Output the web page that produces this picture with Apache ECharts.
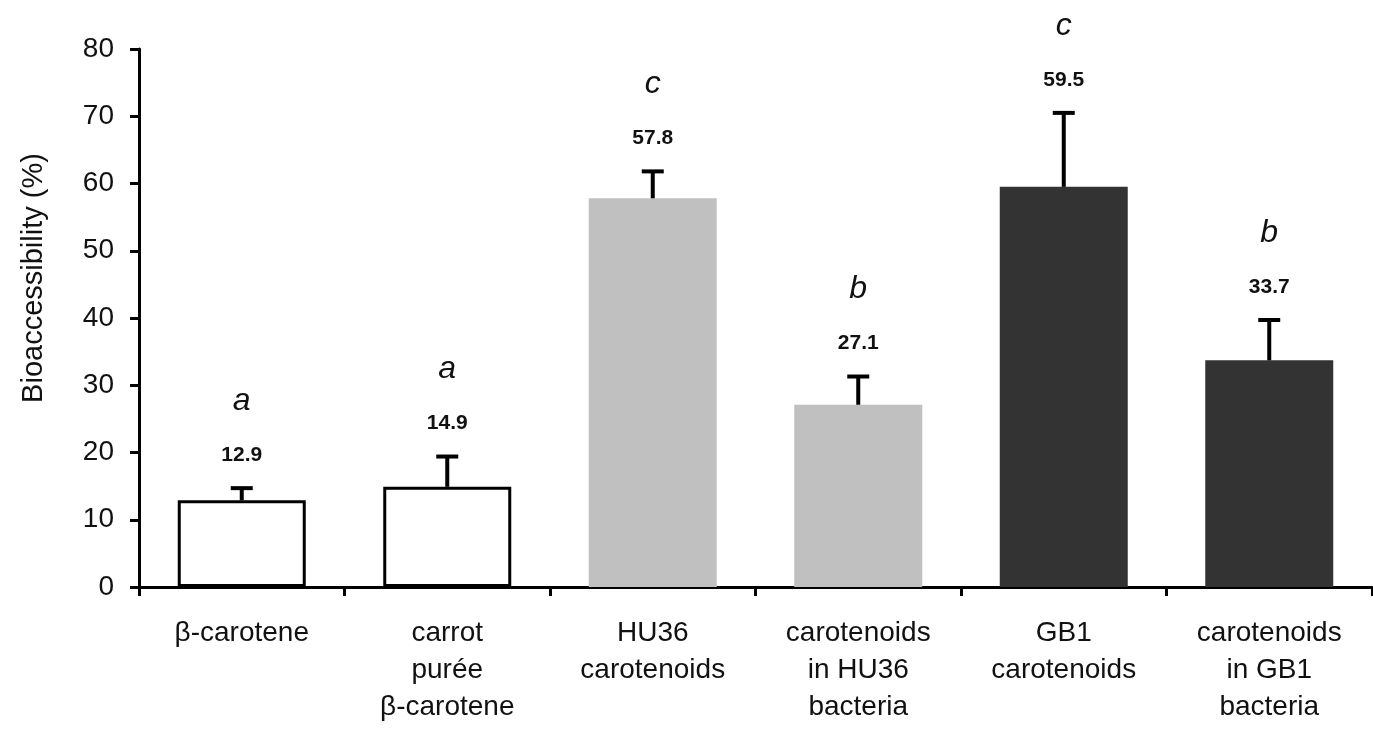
<!DOCTYPE html>
<html>
<head>
<meta charset="utf-8">
<script src="https://cdn.jsdelivr.net/npm/echarts@6/dist/echarts.min.js"></script>
<style>
html,body{margin:0;padding:0;background:#fff;}
#chart{width:1373px;height:733px;}
</style>
</head>
<body>
<div id="chart"></div>
<script>
// ---- data ----
var categories = ['β-carotene', 'carrot\npurée\nβ-carotene', 'HU36\ncarotenoids', 'carotenoids\nin HU36\nbacteria', 'GB1\ncarotenoids', 'carotenoids\nin GB1\nbacteria'];
var values = [12.9, 14.9, 57.8, 27.1, 59.5, 33.7];
var errors = [1.8, 4.5, 4.0, 4.2, 11.0, 6.0];
var valueLabels = ['12.9', '14.9', '57.8', '27.1', '59.5', '33.7'];
var letters = ['a', 'a', 'c', 'b', 'c', 'b'];
var yTicks = [0, 10, 20, 30, 40, 50, 60, 70, 80];
var yName = 'Bioaccessibility (%)';

// ---- styles ----
var fills = ['#ffffff', '#ffffff', '#c0c0c0', '#c0c0c0', '#333333', '#333333'];
var FONT = '"Liberation Sans", Arial, sans-serif';

var chart = echarts.init(document.getElementById('chart'));

var barData = values.map(function (v, i) {
  var white = fills[i] === '#ffffff';
  return {
    value: v,
    itemStyle: {
      color: fills[i],
      borderColor: white ? '#000' : fills[i],
      borderWidth: white ? 3 : 0
    }
  };
});
var errData = values.map(function (v, i) { return [i, v, v + errors[i]]; });

chart.setOption({
  animation: false,
  backgroundColor: '#fff',
  grid: { left: 139, right: 1, top: 49, bottom: 146, containLabel: false },
  xAxis: {
    type: 'category',
    data: categories,
    boundaryGap: true,
    axisLine: { lineStyle: { color: '#000', width: 3 } },
    axisTick: { show: true, length: 9, lineStyle: { color: '#000', width: 3 } },
    axisLabel: { color: '#111', fontFamily: FONT, fontSize: 28, lineHeight: 37, margin: 28, interval: 0 }
  },
  yAxis: {
    type: 'value',
    min: yTicks[0],
    max: yTicks[yTicks.length - 1],
    interval: 10,
    splitLine: { show: false },
    axisLine: { show: true, lineStyle: { color: '#000', width: 3 } },
    axisTick: { show: true, length: 9, lineStyle: { color: '#000', width: 3 } },
    axisLabel: { color: '#111', fontFamily: FONT, fontSize: 28, margin: 25 }
  },
  graphic: [{
    type: 'text',
    x: 34, y: 278,
    rotation: Math.PI / 2,
    style: { text: yName, font: '29px ' + FONT, fill: '#111', align: 'center', verticalAlign: 'middle' }
  }],
  series: [
    {
      type: 'bar',
      data: barData,
      barWidth: 128,
      z: 2
    },
    {
      type: 'custom',
      data: errData,
      z: 5,
      renderItem: function (params, api) {
        var i = params.dataIndex;
        var base = api.coord([api.value(0), api.value(1)]);
        var top = api.coord([api.value(0), api.value(2)]);
        var capW = 22;
        return {
          type: 'group',
          children: [
            { type: 'line', shape: { x1: base[0], y1: base[1], x2: top[0], y2: top[1] }, style: { stroke: '#000', lineWidth: 4 } },
            { type: 'line', shape: { x1: top[0] - capW / 2, y1: top[1], x2: top[0] + capW / 2, y2: top[1] }, style: { stroke: '#000', lineWidth: 4 } },
            { type: 'text', x: top[0], y: top[1] - 33, style: { text: valueLabels[i], font: 'bold 21px ' + FONT, fill: '#111', align: 'center', verticalAlign: 'middle' } },
            { type: 'text', x: top[0], y: top[1] - 87, style: { text: letters[i], font: 'italic 32px ' + FONT, fill: '#111', align: 'center', verticalAlign: 'middle' } }
          ]
        };
      }
    }
  ]
});
</script>
</body>
</html>
